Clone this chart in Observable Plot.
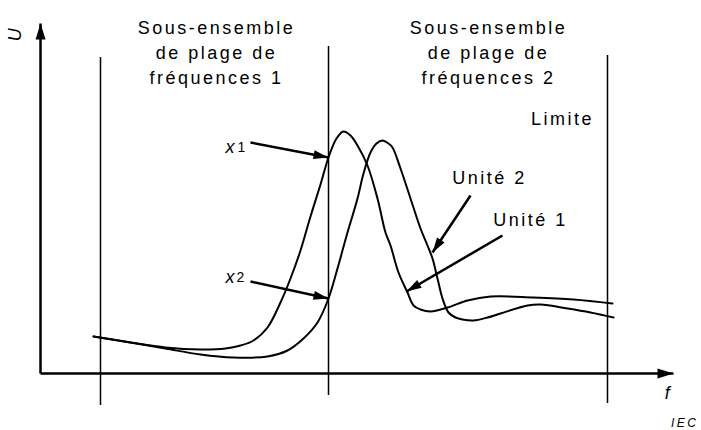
<!DOCTYPE html>
<html>
<head>
<meta charset="utf-8">
<script src="https://cdn.jsdelivr.net/npm/d3@7"></script>
<script src="https://cdn.jsdelivr.net/npm/@observablehq/plot@0.6"></script>
<style>
  html, body { margin: 0; padding: 0; background: #fff; }
</style>
</head>
<body>
<div id="chart"></div>
<script>
// Curve "Unité 1" (peaks first)
const unit1F = [53, 90, 125, 160, 185, 200, 213, 227, 240, 250, 260, 270, 280, 288, 296, 303, 310, 317, 327, 337, 345, 350, 358, 367, 373, 380, 390, 407, 427, 450, 493, 533, 572];
const unit1U = [37, 31, 26, 24, 25, 28, 33, 46, 71, 95, 123, 157, 189, 216, 235, 242, 238, 228, 208, 175, 141, 128, 101, 81, 68, 64, 62, 66, 73, 77, 76, 74, 70];
// Curve "Unité 2" (peaks second)
const unit2F = [53, 90, 125, 160, 193, 227, 247, 263, 277, 288, 297, 307, 317, 323, 330, 336, 342, 348, 352, 360, 370, 380, 387, 392, 397, 402, 408, 415, 422, 433, 447, 460, 487, 500, 527, 550, 573];
const unit2U = [37, 31, 25, 19, 16, 17, 23, 35, 51, 75, 105, 141, 175, 200, 221, 230, 233, 230, 226, 205, 175, 145, 128, 115, 95, 75, 61, 56, 54, 53, 56, 60, 68, 69, 65, 61, 56];

// Frequency sub-range boundaries (vertical lines)
const boundF = [60, 288, 567];
const boundTop = [316, 327, 318];
const boundBottom = [-32, -22, -30];

// Sub-range titles
const rangeTitles = ["Sous-ensemble\nde plage de\nfréquences 1", "Sous-ensemble\nde plage de\nfréquences 2"];
const rangeTitleF = [176, 448];
const rangeTitleU = [323, 323];

// Annotation labels (centres)
const noteText = ["Limite", "Unité 2", "Unité 1"];
const noteF = [522, 449, 490];
const noteU = [254, 195, 153];

// Point labels x1, x2
const ptLetter = ["x", "x"];
const ptIndex = ["1", "2"];
const ptLetterF = [185, 185];
const ptIndexF = [197, 196];
const ptU = [226, 96];

// Annotation arrows: from -> to
const arrowF1 = [210, 210, 430, 462];
const arrowU1 = [231, 92, 178, 138];
const arrowF2 = [288, 288, 392, 366];
const arrowU2 = [216, 75, 121, 82];

// Axes
const axisF1 = [0, 0];
const axisU1 = [0, 0];
const axisF2 = [633, 0];
const axisU2 = [0, 350];
const axisLabels = ["f", "U"];
const axisLabelF = [628, -25];
const axisLabelU = [-20, 340];
const axisLabelRotate = [0, -90];

const credit = ["IEC"];

function head(len, wid) {
  return (color, context) => {
    const m = d3.create("svg:marker")
      .attr("viewBox", `${-len} ${-wid / 2} ${len} ${wid}`)
      .attr("markerUnits", "userSpaceOnUse")
      .attr("markerWidth", len)
      .attr("markerHeight", wid)
      .attr("refX", 0)
      .attr("refY", 0)
      .attr("orient", "auto")
      .attr("overflow", "visible");
    m.append("path")
      .attr("d", `M${-len},${-wid / 2}L0,0L${-len},${wid / 2}Z`)
      .attr("fill", color)
      .attr("stroke", "none");
    return m.node();
  };
}

const idx = (a) => a.map((_, i) => i);
const curve1 = unit1F.map((f, i) => ({f, u: unit1U[i]}));
const curve2 = unit2F.map((f, i) => ({f, u: unit2U[i]}));

const plot = Plot.plot({
  width: 701,
  height: 430,
  marginLeft: 40,
  marginRight: 28,
  marginTop: 23,
  marginBottom: 57,
  x: {domain: [0, 633], axis: null},
  y: {domain: [0, 350], axis: null},
  style: {
    fontFamily: "'Liberation Sans', Arial, Helvetica, sans-serif",
    fontSize: "18px",
    letterSpacing: "2.5px",
    background: "#fff",
    color: "#000"
  },
  marks: [
    Plot.ruleX(idx(boundF), {
      x: (i) => boundF[i], y1: (i) => boundBottom[i], y2: (i) => boundTop[i],
      stroke: "#000", strokeWidth: 1.5
    }),
    Plot.link(idx(axisF1), {
      x1: (i) => axisF1[i], y1: (i) => axisU1[i], x2: (i) => axisF2[i], y2: (i) => axisU2[i],
      stroke: "#000", strokeWidth: 2.5, markerEnd: head(16, 10)
    }),
    Plot.line(curve1, {x: "f", y: "u", curve: "catmull-rom", stroke: "#000", strokeWidth: 2}),
    Plot.line(curve2, {x: "f", y: "u", curve: "catmull-rom", stroke: "#000", strokeWidth: 2}),
    Plot.link(idx(arrowF1), {
      x1: (i) => arrowF1[i], y1: (i) => arrowU1[i], x2: (i) => arrowF2[i], y2: (i) => arrowU2[i],
      stroke: "#000", strokeWidth: 2.5, markerEnd: head(15, 9)
    }),
    Plot.text(idx(rangeTitles), {
      x: (i) => rangeTitleF[i], y: (i) => rangeTitleU[i], text: (i) => rangeTitles[i],
      lineHeight: 25 / 18, fontSize: 18, fill: "#000"
    }),
    Plot.text(idx(noteText), {
      x: (i) => noteF[i], y: (i) => noteU[i], text: (i) => noteText[i],
      fontSize: 18, fill: "#000"
    }),
    Plot.text(idx(ptLetter), {
      x: (i) => ptLetterF[i], y: (i) => ptU[i], text: (i) => ptLetter[i],
      textAnchor: "start", fontSize: 18, fontStyle: "italic", fill: "#000"
    }),
    Plot.text(idx(ptIndex), {
      x: (i) => ptIndexF[i], y: (i) => ptU[i] - 0.5, text: (i) => ptIndex[i],
      textAnchor: "start", fontSize: 14, fill: "#000"
    }),
    Plot.text(idx(axisLabels), {
      x: (i) => axisLabelF[i], y: (i) => axisLabelU[i], text: (i) => axisLabels[i],
      rotate: (i) => axisLabelRotate[i], fontSize: 18, fontStyle: "italic", fill: "#000"
    }),
    Plot.text(credit, {
      x: 658, y: -50, text: (d) => d, textAnchor: "end",
      fontSize: 12, fontStyle: "italic", fill: "#000"
    })
  ]
});

document.getElementById("chart").appendChild(plot);
</script>
</body>
</html>
